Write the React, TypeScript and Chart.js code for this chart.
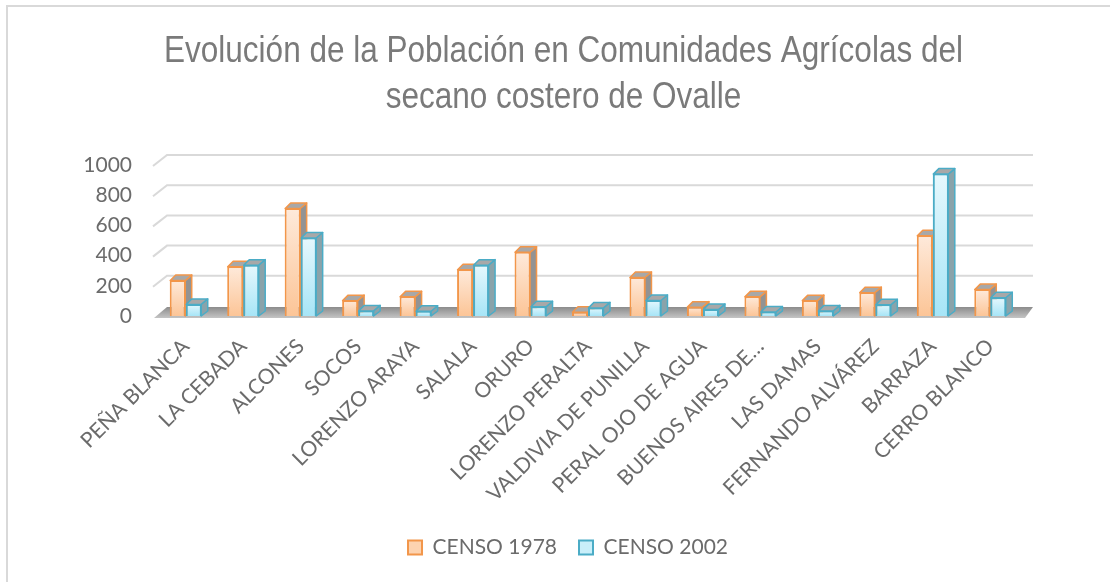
import React, { useEffect, useRef } from "react";
import { Chart, registerables } from "chart.js";
Chart.register(...registerables);

const titleLines = [
  "Evolución de la Población en Comunidades Agrícolas del",
  "secano costero de Ovalle",
];
const categories = [
  "PEÑA BLANCA",
  "LA CEBADA",
  "ALCONES",
  "SOCOS",
  "LORENZO ARAYA",
  "SALALA",
  "ORURO",
  "LORENZO PERALTA",
  "VALDIVIA DE PUNILLA",
  "PERAL OJO DE AGUA",
  "BUENOS AIRES DE…",
  "LAS DAMAS",
  "FERNANDO ALVÁREZ",
  "BARRAZA",
  "CERRO BLANCO",
];
const seriesNames = ["CENSO 1978", "CENSO 2002"];
const censo1978 = [238, 330, 715, 105, 130, 310, 425, 28, 258, 62, 130, 105, 158, 535, 178];
const censo2002 = [80, 340, 520, 37, 35, 340, 64, 57, 106, 46, 30, 37, 77, 943, 124];
const yMin = 0;
const yMax = 1000;
const yStep = 200;

const TEXT = "#6b6b6b";
const FONT = "Lato, 'Open Sans', sans-serif";
const TITLE_FONT = "36px 'Liberation Sans', Arial, sans-serif";

const styles = [
  { border: "#f2964a", top: "#feeadb", bottom: "#fcc597", side: "#939393", cap: "#a8a8a8", legend: "#fdd3b0" },
  { border: "#4bacc6", top: "#e6f8fd", bottom: "#a7e5f7", side: "#8aa3aa", cap: "#a8a8a8", legend: "#c9effa" },
];

const DX = 6;
const DY = 5;

function barGradient(si: number) {
  return (c: any) => {
    const chart = c.chart;
    const y = chart.scales && chart.scales.y;
    if (!y || c.type !== "data") return styles[si].bottom;
    const top = y.getPixelForValue(c.raw as number);
    const base = y.getPixelForValue(0);
    if (!isFinite(top) || !isFinite(base) || Math.abs(base - top) < 1) return styles[si].bottom;
    const g = chart.ctx.createLinearGradient(0, top, 0, base);
    g.addColorStop(0, styles[si].top);
    g.addColorStop(1, styles[si].bottom);
    return g;
  };
}

const threeD = {
  id: "threeD",
  beforeDraw(chart: any) {
    const { ctx, width, height } = chart;
    ctx.save();
    ctx.fillStyle = "#ffffff";
    ctx.fillRect(0, 0, width, height);
    ctx.strokeStyle = "#d9d9d9";
    ctx.lineWidth = 2;
    ctx.strokeRect(7, 6, width + 20, height + 20);
    // title (narrow face)
    ctx.font = TITLE_FONT;
    ctx.fillStyle = "#7a7a7a";
    ctx.textAlign = "center";
    ctx.textBaseline = "alphabetic";
    const w1 = ctx.measureText(titleLines[0]).width;
    const sx = 799 / w1;
    ctx.translate(563.5, 0);
    ctx.scale(sx, 1);
    ctx.fillText(titleLines[0], 0, 62);
    ctx.fillText(titleLines[1], 0, 108);
    ctx.restore();
  },
  beforeDatasetsDraw(chart: any) {
    const { ctx, chartArea } = chart;
    const ys = chart.scales.y;
    const { left, right } = chartArea;
    ctx.save();
    ctx.strokeStyle = "#d9d9d9";
    ctx.lineWidth = 2;
    ys.ticks.forEach((t: any) => {
      if (t.value === 0) return;
      const y = ys.getPixelForValue(t.value);
      ctx.beginPath();
      ctx.moveTo(left - 4, y + 1);
      ctx.lineTo(left + 10, y - 10);
      ctx.lineTo(right + 14, y - 10);
      ctx.stroke();
    });
    const y0 = ys.getPixelForValue(0);
    const g = ctx.createLinearGradient(0, y0 - 9, 0, y0 + 2);
    g.addColorStop(0, "#8c8c8c");
    g.addColorStop(1, "#c4c4c4");
    ctx.fillStyle = g;
    ctx.beginPath();
    ctx.moveTo(left - 3, y0 + 2);
    ctx.lineTo(left + 10, y0 - 9);
    ctx.lineTo(right + 14, y0 - 9);
    ctx.lineTo(right + 6, y0 + 2);
    ctx.closePath();
    ctx.fill();
    ctx.restore();
  },
  afterDatasetsDraw(chart: any) {
    const { ctx } = chart;
    ctx.save();
    for (let di = 0; di < chart.data.datasets.length; di++) {
      const meta = chart.getDatasetMeta(di);
      const st = styles[di];
      meta.data.forEach((el: any) => {
        if (di > 0) el.draw(ctx);
        const { x, y, base, width } = el.getProps(["x", "y", "base", "width"], true);
        const l = x - width / 2;
        const r = x + width / 2;
        ctx.lineWidth = 1.5;
        ctx.strokeStyle = st.border;
        ctx.lineJoin = "round";
        ctx.fillStyle = st.side;
        ctx.beginPath();
        ctx.moveTo(r - 0.5, y);
        ctx.lineTo(r + DX, y - DY);
        ctx.lineTo(r + DX, base - DY);
        ctx.lineTo(r - 0.5, base);
        ctx.closePath();
        ctx.fill();
        ctx.stroke();
        ctx.fillStyle = st.cap;
        ctx.beginPath();
        ctx.moveTo(l + 0.5, y + 0.5);
        ctx.lineTo(l + DX, y - DY);
        ctx.lineTo(r + DX, y - DY);
        ctx.lineTo(r - 0.5, y + 0.5);
        ctx.closePath();
        ctx.fill();
        ctx.stroke();
      });
    }
    ctx.restore();
  },
};

export default function App() {
  const ref = useRef<HTMLCanvasElement | null>(null);
  useEffect(() => {
    document.body.style.margin = "0";
    if (!ref.current) return;
    const chart = new Chart(ref.current, {
      type: "bar",
      data: {
        labels: categories,
        datasets: [
          {
            label: seriesNames[0],
            data: censo1978,
            backgroundColor: barGradient(0),
            borderColor: styles[0].border,
            borderWidth: 2,
            categoryPercentage: 0.557,
            barPercentage: 1,
          },
          {
            label: seriesNames[1],
            data: censo2002,
            backgroundColor: barGradient(1),
            borderColor: styles[1].border,
            borderWidth: 2,
            categoryPercentage: 0.557,
            barPercentage: 1,
          },
        ],
      },
      options: {
        responsive: false,
        animation: false,
        devicePixelRatio: 1,
        layout: { padding: { left: 117, right: 91, top: 165, bottom: 14 } },
        plugins: {
          title: { display: false },
          legend: {
            position: "bottom",
            labels: {
              color: TEXT,
              font: { family: FONT, size: 21 },
              boxWidth: 14,
              boxHeight: 14,
              padding: 22,
              generateLabels: (ch: any) =>
                ch.data.datasets.map((d: any, i: number) => ({
                  text: d.label,
                  fillStyle: styles[i].legend,
                  strokeStyle: styles[i].border,
                  lineWidth: 2,
                  fontColor: TEXT,
                  hidden: false,
                  datasetIndex: i,
                })),
            },
          },
          tooltip: { enabled: false },
        },
        scales: {
          x: {
            grid: { display: false },
            border: { display: false },
            ticks: {
              autoSkip: false,
              maxRotation: 45,
              minRotation: 45,
              padding: 10,
              color: TEXT,
              font: { family: FONT, size: 21 },
            },
            afterFit: (s: any) => {
              s.height = 199;
            },
          },
          y: {
            min: yMin,
            max: yMax,
            grid: { display: false, drawTicks: false },
            border: { display: false },
            ticks: {
              stepSize: yStep,
              autoSkip: false,
              padding: 25,
              color: TEXT,
              font: { family: FONT, size: 21 },
              callback: (v: any) => String(v),
            },
            afterFit: (s: any) => {
              s.width = 40;
              s._computeLabelArea = () => undefined;
            },
          },
        },
      },
      plugins: [threeD],
    });
    return () => chart.destroy();
  }, []);
  return (
    <div style={{ width: 1110, height: 582 }}>
      <canvas ref={ref} width={1110} height={582} />
    </div>
  );
}
